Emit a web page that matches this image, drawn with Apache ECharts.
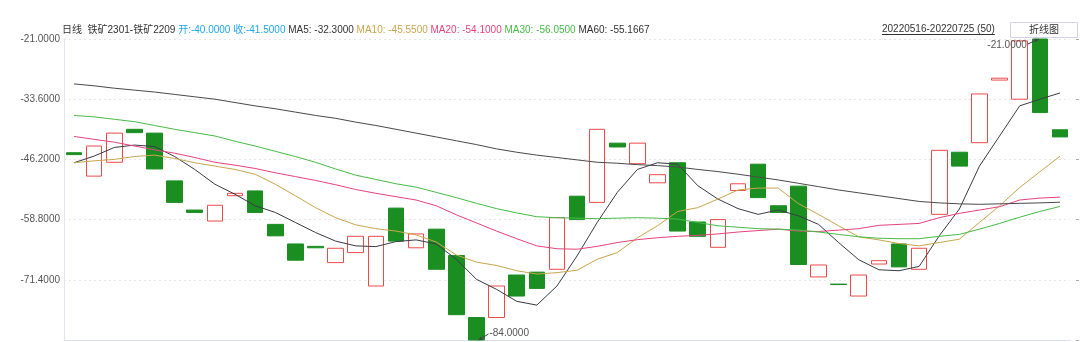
<!DOCTYPE html>
<html><head><meta charset="utf-8">
<script src="https://cdn.jsdelivr.net/npm/echarts@6/dist/echarts.min.js"></script>
<style>html,body{margin:0;padding:0;background:#fff}#c{width:1080px;height:342px}</style>
</head><body><div id="c"></div>
<script>
const categories = ['20220516','20220517','20220518','20220519','20220520','20220523','20220524','20220525','20220526','20220527',
'20220530','20220531','20220601','20220602','20220606','20220607','20220608','20220609','20220610','20220613',
'20220614','20220615','20220616','20220617','20220620','20220621','20220622','20220623','20220624','20220627',
'20220628','20220629','20220630','20220701','20220704','20220705','20220706','20220707','20220708','20220711',
'20220712','20220713','20220714','20220715','20220718','20220719','20220720','20220721','20220722','20220725'];
const opens = [-44.8,-49.7,-46.8,-39.9,-40.7,-50.7,-56.8,-59.1,-53.8,-52.8,
-59.8,-63.9,-64.4,-67.8,-65.7,-72.7,-56.4,-64.7,-60.8,-66.3,
-79.3,-79.3,-70.4,-69.8,-69.2,-53.9,-55.2,-42.8,-47.1,-51.1,
-46.9,-59.3,-64.6,-52.7,-47.2,-55.9,-51.8,-70.8,-72.3,-74.8,
-68.1,-63.9,-69.2,-57.7,-44.7,-42.7,-29.6,-33.6,-21.0,-40.0];
const closes = [-45.2,-43.4,-40.7,-40.6,-48.2,-55.2,-57.3,-55.8,-53.3,-57.3,
-62.2,-67.3,-64.7,-64.8,-62.3,-62.3,-63.3,-61.8,-69.2,-78.7,
-84.0,-72.7,-74.8,-73.2,-58.4,-58.8,-39.9,-43.6,-42.8,-49.4,
-61.2,-62.3,-58.8,-51.3,-54.2,-57.3,-68.2,-68.3,-72.4,-70.4,
-67.4,-68.7,-64.8,-44.3,-47.6,-32.5,-29.2,-21.4,-36.4,-41.5];
const ma5 = [-46.9,-45.5,-43.7,-43.2,-43.5,-45.6,-48.3,-51.4,-53.5,-55.9,
-57.3,-59.4,-61.5,-63.3,-64.3,-64.45,-63.4,-63.05,-63.9,-67.1,
-71.3,-73.4,-75.9,-76.7,-72.7,-66.4,-59.4,-53.1,-48.3,-46.9,
-47.2,-51.7,-54.5,-56.5,-57.7,-56.8,-58.0,-59.8,-63.6,-67.2,
-69.3,-69.5,-68.6,-62.2,-56.6,-47.6,-41.3,-35.0,-33.6,-32.3];
const ma10 = [-46.9,-46.5,-46.2,-45.6,-45.3,-46.0,-46.9,-47.6,-48.3,-49.3,
-51.4,-53.8,-56.3,-58.4,-59.9,-60.7,-61.2,-62.0,-63.5,-66.2,
-67.7,-68.4,-69.5,-70.2,-69.9,-69.4,-67.1,-65.7,-62.6,-60.1,
-57.1,-56.3,-54.5,-52.6,-52.2,-52.2,-55.45,-57.7,-60.1,-62.4,
-63.05,-63.8,-64.3,-63.6,-62.9,-59.4,-55.9,-52.1,-48.8,-45.55];
const ma20 = [-41.4,-42.0,-42.6,-43.4,-44.2,-44.9,-45.8,-46.8,-47.4,-48.1,
-49.0,-49.8,-50.6,-51.5,-52.5,-53.3,-54.0,-54.7,-55.9,-57.8,
-59.5,-61.2,-62.8,-64.3,-64.9,-65.0,-64.4,-63.6,-63.0,-62.6,
-62.3,-62.1,-61.8,-61.4,-61.1,-60.8,-61.2,-61.3,-61.0,-60.7,
-60.0,-59.8,-59.6,-58.4,-57.5,-56.8,-56.1,-54.7,-54.3,-54.1];
const ma30 = [-37.0,-37.3,-37.8,-38.3,-39.1,-39.9,-40.6,-41.3,-42.4,-43.4,
-44.5,-45.6,-46.8,-48.2,-49.5,-50.4,-51.3,-52.0,-53.1,-54.2,
-55.4,-56.5,-57.4,-58.2,-58.4,-58.5,-58.6,-58.5,-58.4,-58.5,
-58.7,-59.4,-60.1,-60.4,-60.7,-60.8,-61.0,-61.4,-61.9,-62.4,
-62.7,-62.8,-62.8,-62.3,-61.9,-60.8,-59.6,-58.3,-57.1,-56.05];
const ma60 = [-30.4,-30.8,-31.3,-31.7,-32.1,-32.6,-33.1,-33.6,-34.3,-35.0,
-35.6,-36.3,-37.0,-37.6,-38.4,-39.1,-39.9,-40.7,-41.5,-42.3,
-43.1,-44.0,-44.7,-45.3,-45.8,-46.3,-46.8,-47.0,-47.3,-47.5,
-47.8,-48.3,-48.75,-49.3,-49.9,-50.5,-51.2,-51.9,-52.6,-53.2,
-53.8,-54.4,-55.0,-55.3,-55.5,-55.6,-55.5,-55.4,-55.3,-55.1667];
const yMin = -84, yMax = -21, yStep = 12.6;
const seriesName = '铁矿2301-铁矿2209';
const periodName = '日线';

const FONT = '"Liberation Sans", Arial, "Noto Sans CJK SC", sans-serif';
const C = { up:'#ec4a4a', down:'#1b8e22', ma5:'#3b3b48', ma10:'#c9a64e', ma20:'#e6437c', ma30:'#46bb46', ma60:'#4a4a4a', oc:'#1fa6ef', txt:'#333' };

const candles = opens.map((o,i)=>[o, closes[i], Math.min(o,closes[i]), Math.max(o,closes[i])]);
let hiI=0, loI=0;
candles.forEach((c,i)=>{ if(c[3]>candles[hiI][3]) hiI=i; if(c[2]<candles[loI][2]) loI=i; });
const extremes = [[hiI, candles[hiI][3], 1],[loI, candles[loI][2], -1]];

const f4 = v => Number(v).toFixed(4);
const last = a => a[a.length-1];
const headerText = `{t|${periodName}  ${seriesName}} {o|开:${f4(last(opens))} 收:${f4(last(closes))}} {m5|MA5: ${f4(last(ma5))}} {m10|MA10: ${f4(last(ma10))}} {m20|MA20: ${f4(last(ma20))}} {m30|MA30: ${f4(last(ma30))}} {m60|MA60: ${f4(last(ma60))}}`;
const rangeText = `${categories[0]}-${last(categories)} (${categories.length})`;
const cv = document.createElement('canvas').getContext('2d');
cv.font = '10px "Liberation Sans"';
const rangeW = cv.measureText(rangeText).width;

function arrowHead(a, p){
  const dx=p[0]-a[0], dy=p[1]-a[1], L=Math.hypot(dx,dy), ux=dx/L, uy=dy/L, nx=-uy, ny=ux;
  return [[p[0],p[1]],[p[0]-4*ux+2*nx,p[1]-4*uy+2*ny],[p[0]-4*ux-2*nx,p[1]-4*uy-2*ny]];
}

const maLine = (name, data, color) => ({ name, type:'line', data, symbol:'none', smooth:false,
  lineStyle:{ color, width:1 }, itemStyle:{color}, z:3, silent:true });

const chart = echarts.init(document.getElementById('c'));
chart.setOption({
  animation:false,
  backgroundColor:'#fff',
  textStyle:{ fontFamily: FONT },
  title:{ left:62, top:24, padding:0, text: headerText,
    textStyle:{ fontSize:10, fontWeight:'normal', lineHeight:12, rich:{
      t:{color:C.txt, fontSize:10, fontFamily:FONT}, o:{color:C.oc, fontSize:10, fontFamily:FONT},
      m5:{color:C.txt, fontSize:10, fontFamily:FONT}, m10:{color:C.ma10, fontSize:10, fontFamily:FONT},
      m20:{color:C.ma20, fontSize:10, fontFamily:FONT}, m30:{color:C.ma30, fontSize:10, fontFamily:FONT},
      m60:{color:C.txt, fontSize:10, fontFamily:FONT} } } },
  graphic:[
    { type:'text', left:882, top:24, style:{ text:rangeText, fill:'#333', font:'10px '+FONT } },
    { type:'line', shape:{ x1:882, y1:34.5, x2:882+rangeW, y2:34.5 }, style:{ stroke:'#333', lineWidth:1 } },
    { type:'rect', shape:{ x:1010.5, y:22.5, width:67, height:15 }, style:{ fill:'#fff', stroke:'#d2d3e8', lineWidth:1 } },
    { type:'text', x:1044, y:30, style:{ text:'折线图', fill:'#333', font:'10px '+FONT, align:'center', verticalAlign:'middle' } }
  ],
  grid:{ left:64, right:10, top:39, bottom:2 },
  xAxis:{ type:'category', data:categories, boundaryGap:true,
    axisLabel:{show:false}, axisTick:{show:false},
    axisLine:{ lineStyle:{ color:'#dcdff0' } }, splitLine:{show:false} },
  yAxis:[{ type:'value', min:yMin, max:yMax, interval:yStep, scale:true,
    axisLine:{ show:true, lineStyle:{ color:'#e2e4f3' } }, axisTick:{show:false},
    axisLabel:{ showMinLabel:false, fontSize:10, color:'#555', margin:4, formatter:v=>f4(v), fontFamily:FONT },
    splitLine:{ show:true, lineStyle:{ color:'#e6e6e6', type:[2,3] } } },
    { type:'value', min:yMin, max:yMax, interval:yStep, position:'right', offset:6,
      axisLine:{show:false}, axisLabel:{show:false}, splitLine:{show:false},
      axisTick:{ show:true, length:3, lineStyle:{ color:'#aaa' } } }],
  series:[
    { name:seriesName, type:'candlestick', data:candles, barWidth:'80%', z:2,
      itemStyle:{ color:'#fff', color0:C.down, borderColor:C.up, borderColor0:C.down, borderWidth:1 } },
    maLine('MA5', ma5, C.ma5),
    maLine('MA10', ma10, C.ma10),
    maLine('MA20', ma20, C.ma20),
    maLine('MA30', ma30, C.ma30),
    maLine('MA60', ma60, C.ma60),
    { type:'custom', data:extremes, z:5, silent:true, clip:false,
      renderItem(params, api){
        const v = api.value(1), side = api.value(2);
        const p = api.coord([api.value(0), v]);
        let a, tx, ty, align;
        if (side > 0){ p[0] -= 1; a=[p[0]-11, p[1]+5]; tx=a[0]-1; ty=a[1]+1; align='right'; }
        else { p[0] += 2; a=[p[0]+10, p[1]-6]; tx=a[0]+1; ty=a[1]-1; align='left'; }
        return { type:'group', children:[
          { type:'line', shape:{x1:a[0],y1:a[1],x2:p[0],y2:p[1]}, style:{stroke:'#444', lineWidth:1} },
          { type:'polygon', shape:{points:arrowHead(a,p)}, style:{fill:'#444'} },
          { type:'text', style:{ x:tx, y:ty, text:f4(v), fill:'#555', font:'10px '+FONT, align, verticalAlign:'middle' } }
        ]};
      } }
  ]
});
</script></body></html>
